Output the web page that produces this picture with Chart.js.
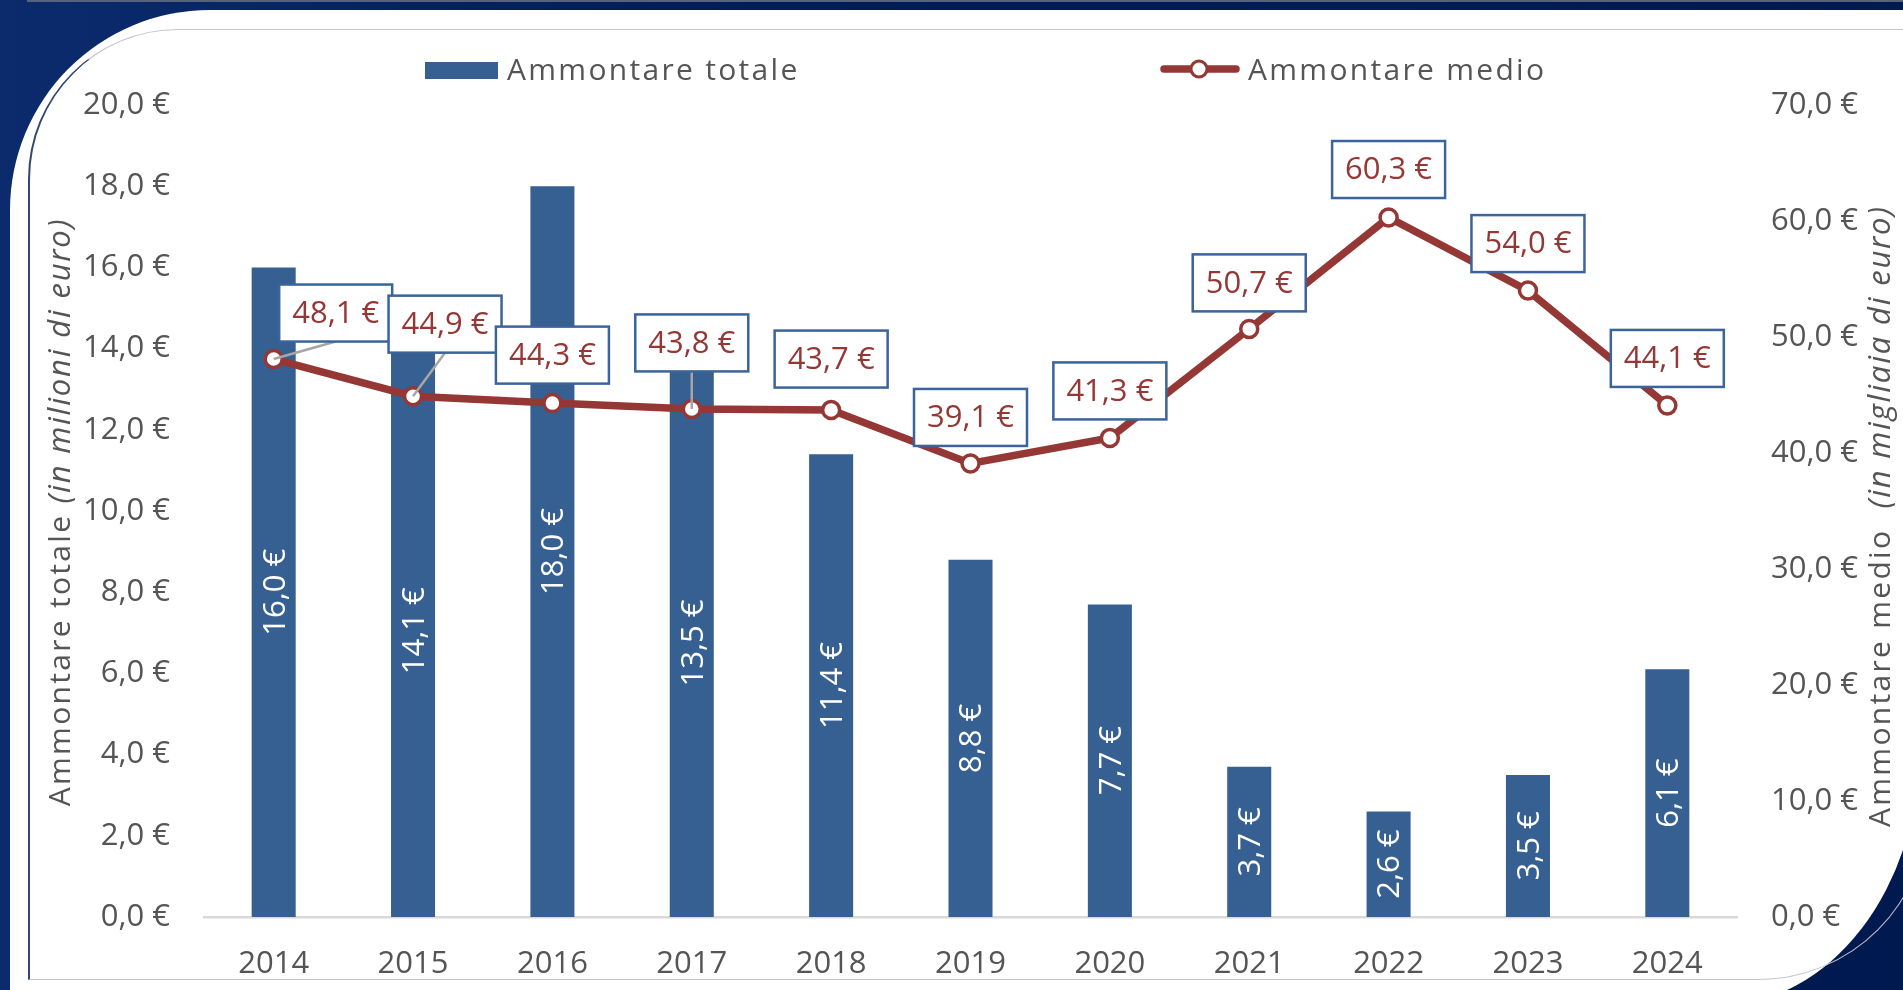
<!DOCTYPE html>
<html>
<head>
<meta charset="utf-8">
<script src="https://cdn.jsdelivr.net/npm/chart.js@4.4.1/dist/chart.umd.min.js"></script>
<style>
html, body { margin: 0; padding: 0; overflow: hidden; }
body { width: 1903px; height: 990px; position: relative;
       background: linear-gradient(90deg, #0b2b6d 0%, #021d57 35%, #001a50 100%); }
#topline { position: absolute; left: 27px; top: 0; width: 1876px; height: 2px; background: #56637f; }
#card { position: absolute; left: 10px; top: 10px; width: 1910px; height: 995px; background: #fff;
        border-top-left-radius: 200px; border-bottom-right-radius: 200px 260px; }
#frame { position: absolute; left: 28px; top: 29px; width: 1900px; height: 951px; box-sizing: border-box;
         border: 1.5px solid #c4c2d2; border-left: 2px solid #34476f;
         border-top-left-radius: 150px; border-bottom-right-radius: 170px; }
#wrap { position: absolute; left: 0; top: 0; width: 1903px; height: 990px; }
</style>
</head>
<body>
<div id="topline"></div>
<div id="card"></div>
<div id="frame"></div>
<div id="wrap"><canvas id="grafico"></canvas></div>
<script>
// dati
var anni = ['2014', '2015', '2016', '2017', '2018', '2019', '2020', '2021', '2022', '2023', '2024'];
var totale = [16.0, 14.1, 18.0, 13.5, 11.4, 8.8, 7.7, 3.7, 2.6, 3.5, 6.1];   // milioni di euro
var medio = [48.1, 44.9, 44.3, 43.8, 43.7, 39.1, 41.3, 50.7, 60.3, 54.0, 44.1]; // migliaia di euro
var tickTotale = [0, 2, 4, 6, 8, 10, 12, 14, 16, 18, 20];
var tickMedio = [0, 10, 20, 30, 40, 50, 60, 70];

// spostamento delle etichette della linea rispetto al punto (px)
var spostaEtichetta = [[62, -46], [32, -72], [0, -48], [0, -66], [0, -51], [0, -46],
                       [0, -47], [0, -46], [0, -48], [0, -47], [0, -47]];

var FONT = "'Open Sans', sans-serif";
var BLU = '#376092', ROSSO = '#953735', GRIGIO = '#555555';

function euro(v) { return v.toFixed(1).replace('.', ',') + ' €'; }

function titoloRuotato(ctx, cx, cy, parti) {
    ctx.save();
    ctx.translate(cx, cy);
    ctx.rotate(-Math.PI / 2);
    ctx.textBaseline = 'middle';
    ctx.textAlign = 'left';
    ctx.fillStyle = GRIGIO;
    var tot = 0;
    parti.forEach(function (p) {
        ctx.font = p.font; ctx.letterSpacing = p.sp;
        p.w = ctx.measureText(p.t).width;
        tot += p.w;
    });
    var x = -tot / 2;
    parti.forEach(function (p) {
        ctx.font = p.font; ctx.letterSpacing = p.sp;
        ctx.fillText(p.t, x, 0);
        x += p.w;
    });
    ctx.restore();
}

var decorazioni = {
    id: 'decorazioni',
    afterDatasetsDraw: function (chart) {
        var ctx = chart.ctx;
        ctx.save();
        ctx.font = '31px ' + FONT;
        ctx.textAlign = 'center';
        ctx.textBaseline = 'middle';

        // etichette barre
        ctx.fillStyle = '#fff';
        chart.getDatasetMeta(0).data.forEach(function (bar, i) {
            ctx.save();
            ctx.translate(bar.x, (bar.y + bar.base) / 2);
            ctx.rotate(-Math.PI / 2);
            ctx.fillText(euro(totale[i]), 0, 2);
            ctx.restore();
        });

        // etichette linea
        var w = 113, h = 57;
        chart.getDatasetMeta(1).data.forEach(function (pt, i) {
            var bx = pt.x + spostaEtichetta[i][0], by = pt.y + spostaEtichetta[i][1];
            var fondo = by + h / 2;
            if (Math.hypot(bx - pt.x, fondo - pt.y) > 30) {
                ctx.strokeStyle = '#a6a6a6';
                ctx.lineWidth = 2.5;
                ctx.beginPath();
                ctx.moveTo(pt.x, pt.y);
                ctx.lineTo(bx, fondo);
                ctx.stroke();
            }
            ctx.fillStyle = '#fff';
            ctx.fillRect(bx - w / 2, by - h / 2, w, h);
            ctx.strokeStyle = '#3a649a';
            ctx.lineWidth = 2.5;
            ctx.strokeRect(bx - w / 2, by - h / 2, w, h);
            ctx.fillStyle = ROSSO;
            ctx.fillText(euro(medio[i]), bx, by + 1);
        });
        ctx.restore();
    },
    afterDraw: function (chart) {
        var ctx = chart.ctx;
        ctx.save();
        // legenda
        ctx.fillStyle = BLU;
        ctx.fillRect(425, 62, 73, 17);
        ctx.strokeStyle = ROSSO;
        ctx.lineWidth = 7.5;
        ctx.lineCap = 'round';
        ctx.beginPath();
        ctx.moveTo(1164, 69);
        ctx.lineTo(1236, 69);
        ctx.stroke();
        ctx.beginPath();
        ctx.arc(1199, 69, 8, 0, Math.PI * 2);
        ctx.fillStyle = '#fff';
        ctx.fill();
        ctx.lineWidth = 3;
        ctx.stroke();
        ctx.font = '30px ' + FONT;
        ctx.letterSpacing = '2.3px';
        ctx.fillStyle = GRIGIO;
        ctx.textBaseline = 'alphabetic';
        ctx.fillText('Ammontare totale', 507, 80);
        ctx.fillText('Ammontare medio', 1248, 80);
        ctx.restore();

        // titoli assi
        titoloRuotato(ctx, 61, 512, [
            { t: 'Ammontare totale ', font: '30px ' + FONT, sp: '2.3px' },
            { t: '(in milioni di euro)', font: 'italic 31px ' + FONT, sp: '1.8px' }
        ]);
        titoloRuotato(ctx, 1881, 516, [
            { t: 'Ammontare medio  ', font: '30px ' + FONT, sp: '2.3px' },
            { t: '(in migliaia di euro)', font: 'italic 31px ' + FONT, sp: '1.8px' }
        ]);
    }
};

var tickFont = { family: FONT, size: 31 };

new Chart(document.getElementById('grafico'), {
    type: 'bar',
    data: {
        labels: anni,
        datasets: [
            {
                label: 'Ammontare totale',
                data: totale,
                backgroundColor: BLU,
                yAxisID: 'y',
                order: 2,
                categoryPercentage: 1,
                barPercentage: 0.316
            },
            {
                type: 'line',
                label: 'Ammontare medio',
                data: medio,
                borderColor: ROSSO,
                borderWidth: 7.5,
                pointRadius: 8.5,
                pointBackgroundColor: '#fff',
                pointBorderColor: ROSSO,
                pointBorderWidth: 3.5,
                tension: 0,
                yAxisID: 'y1',
                order: 1
            }
        ]
    },
    options: {
        responsive: true,
        maintainAspectRatio: false,
        animation: false,
        events: [],
        layout: { padding: { top: 105, left: 0, right: 0, bottom: 0 } },
        plugins: { legend: { display: false }, tooltip: { enabled: false } },
        scales: {
            x: {
                grid: { display: false, drawTicks: false },
                border: { display: true, color: '#d9d9d9', width: 2.5 },
                ticks: { color: GRIGIO, font: tickFont, padding: 29, maxRotation: 0 },
                afterFit: function (s) { s.height = 73; }
            },
            y: {
                position: 'left',
                min: 0, max: 20,
                grid: { display: false, drawTicks: false },
                border: { display: false },
                ticks: { color: GRIGIO, font: tickFont, padding: 34, callback: function (v) { return euro(v); } },
                afterBuildTicks: function (s) { s.ticks = tickTotale.map(function (v) { return { value: v }; }); },
                afterFit: function (s) { s.width = 204; }
            },
            y1: {
                position: 'right',
                min: 0, max: 70,
                grid: { display: false, drawTicks: false },
                border: { display: false },
                ticks: { color: GRIGIO, font: tickFont, padding: 34, callback: function (v) { return euro(v); } },
                afterBuildTicks: function (s) { s.ticks = tickMedio.map(function (v) { return { value: v }; }); },
                afterFit: function (s) { s.width = 166; }
            }
        }
    },
    plugins: [decorazioni]
});
</script>
</body>
</html>
